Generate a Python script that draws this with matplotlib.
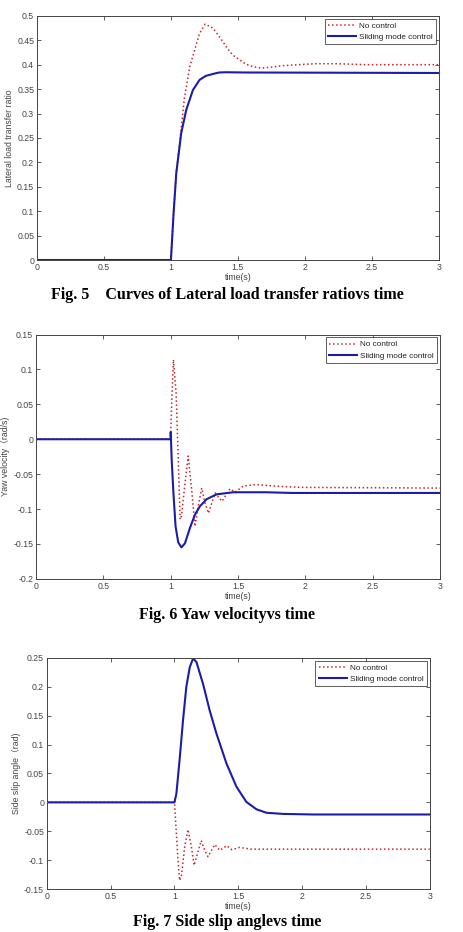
import matplotlib.pyplot as plt

# ---- Fig. 5 : lateral load transfer ratio ----
t5_nc = [0, 1.0, 1.02, 1.04, 1.065, 1.1, 1.14, 1.177, 1.214, 1.256, 1.313, 1.36, 1.413,
         1.46, 1.512, 1.56, 1.612, 1.674, 1.75, 1.836, 1.95, 2.08, 2.23, 2.35, 2.46, 3.0]
lltr_nc = [0, 0, 0.1, 0.18, 0.24, 0.33, 0.395, 0.43, 0.464, 0.483, 0.475, 0.458, 0.437,
           0.42, 0.41, 0.401, 0.396, 0.393, 0.395, 0.398, 0.400, 0.402, 0.402, 0.401, 0.400, 0.400]
t5_smc = [0, 1.0, 1.02, 1.04, 1.077, 1.114, 1.164, 1.214, 1.26, 1.313, 1.36, 1.41, 1.55, 3.0]
lltr_smc = [0, 0, 0.096, 0.178, 0.26, 0.307, 0.348, 0.369, 0.377, 0.381, 0.384, 0.3845, 0.384, 0.383]

# ---- Fig. 6 : yaw velocity ----
t6_nc = [0, 1.0, 1.0, 1.01, 1.02, 1.04, 1.056, 1.07, 1.08, 1.106, 1.13, 1.155, 1.18, 1.2,
         1.23, 1.254, 1.28, 1.33, 1.38, 1.44, 1.477, 1.54, 1.64, 1.76, 1.96, 3.0]
yaw_nc = [0, 0, 0.009, 0.066, 0.114, 0.066, -0.029, -0.115, -0.11, -0.063, -0.024, -0.072,
          -0.125, -0.1, -0.07, -0.091, -0.106, -0.077, -0.089, -0.071, -0.076, -0.067,
          -0.065, -0.067, -0.069, -0.070]
t6_smc = [0, 1.0, 1.0, 1.007, 1.02, 1.036, 1.056, 1.08, 1.106, 1.143, 1.18, 1.217, 1.266,
          1.34, 1.464, 1.71, 1.9, 3.0]
yaw_smc = [0, 0, 0.0105, -0.029, -0.077, -0.125, -0.148, -0.155, -0.149, -0.127, -0.108,
           -0.096, -0.086, -0.079, -0.076, -0.076, -0.077, -0.077]

# ---- Fig. 7 : side slip angle ----
t7_nc = [0, 1.0, 1.015, 1.028, 1.04, 1.054, 1.08, 1.106, 1.133, 1.154, 1.18, 1.21, 1.237,
         1.263, 1.316, 1.355, 1.41, 1.45, 1.51, 1.6, 3.0]
slip_nc = [0, 0, -0.054, -0.1, -0.135, -0.129, -0.077, -0.047, -0.077, -0.109, -0.089,
           -0.066, -0.083, -0.094, -0.073, -0.083, -0.075, -0.082, -0.078, -0.081, -0.081]
t7_smc = [0, 1.0, 1.015, 1.04, 1.067, 1.093, 1.12, 1.146, 1.172, 1.224, 1.276, 1.329,
          1.408, 1.486, 1.564, 1.643, 1.72, 1.852, 2.09, 3.0]
slip_smc = [0, 0, 0.015, 0.073, 0.142, 0.2, 0.234, 0.249, 0.243, 0.205, 0.159, 0.119,
            0.067, 0.027, 0.0006, -0.012, -0.018, -0.020, -0.021, -0.021]

xticks = [0, 0.5, 1, 1.5, 2, 2.5, 3]
xticklabels = ['0', '0.5', '1', '1.5', '2', '2.5', '3']

RED = '#c8262a'
BLUE = '#1c1ca8'
GRAY = '#444444'
FAM = ['Liberation Sans', 'Noto Sans CJK SC']

fig = plt.figure(figsize=(4.64, 9.32), dpi=100)


def panel(rect, tnc, ync, tsmc, ysmc, ylim, yticks, ylabel, caption, cap_y):
    ax = fig.add_axes(rect)
    ax.plot(tnc, ync, color=RED, ls=':', lw=1.1, label='No control')
    ax.plot(tsmc, ysmc, color=BLUE, ls='-', lw=1.5, label='Sliding mode control')
    ax.set_xlim(0, 3)
    ax.set_ylim(*ylim)
    ax.set_xticks(xticks)
    ax.set_xticklabels(xticklabels)
    ax.set_yticks(yticks)
    ax.set_yticklabels(['%g' % v for v in yticks])
    ax.tick_params(direction='in', top=True, right=True, length=3, width=0.6,
                   labelsize=6.3, colors=GRAY, pad=2)
    for lab in ax.get_xticklabels() + ax.get_yticklabels():
        lab.set_family(FAM)
    for s in ax.spines.values():
        s.set_color(GRAY)
        s.set_linewidth(0.7)
    ax.set_xlabel('time(s)', fontsize=6.3, color=GRAY, family=FAM, labelpad=1)
    ax.set_ylabel(ylabel, fontsize=6.3, color=GRAY, family=FAM, labelpad=2)
    leg = ax.legend(loc='upper right', fontsize=5.9, frameon=True, fancybox=False,
                    edgecolor='#333333', handlelength=3.4, borderpad=0.4,
                    labelspacing=0.45, handletextpad=0.4, borderaxespad=0.35)
    leg.get_frame().set_linewidth(0.7)
    for tx in leg.get_texts():
        tx.set_family(FAM)
        tx.set_color('#222222')
    fig.text(0.49, cap_y, caption, ha='center', va='center', fontsize=11.5,
             fontweight='bold', family='Liberation Serif')
    return ax


panel([0.0797, 0.721, 0.866, 0.262], t5_nc, lltr_nc, t5_smc, lltr_smc,
      (0, 0.5), [0, 0.05, 0.1, 0.15, 0.2, 0.25, 0.3, 0.35, 0.4, 0.45, 0.5],
      'Lateral load transfer ratio',
      'Fig. 5    Curves of Lateral load transfer ratiovs time', 1 - 295 / 932)

panel([0.0776, 0.379, 0.871, 0.262], t6_nc, yaw_nc, t6_smc, yaw_smc,
      (-0.2, 0.15), [-0.2, -0.15, -0.1, -0.05, 0, 0.05, 0.1, 0.15],
      'Yaw velocity（rad/s)',
      'Fig. 6 Yaw velocityvs time', 1 - 615 / 932)

panel([0.101, 0.0461, 0.825, 0.248], t7_nc, slip_nc, t7_smc, slip_smc,
      (-0.15, 0.25), [-0.15, -0.1, -0.05, 0, 0.05, 0.1, 0.15, 0.2, 0.25],
      'Side slip angle（rad)',
      'Fig. 7 Side slip anglevs time', 1 - 922 / 932)

fig.savefig('out.png', dpi=100)
